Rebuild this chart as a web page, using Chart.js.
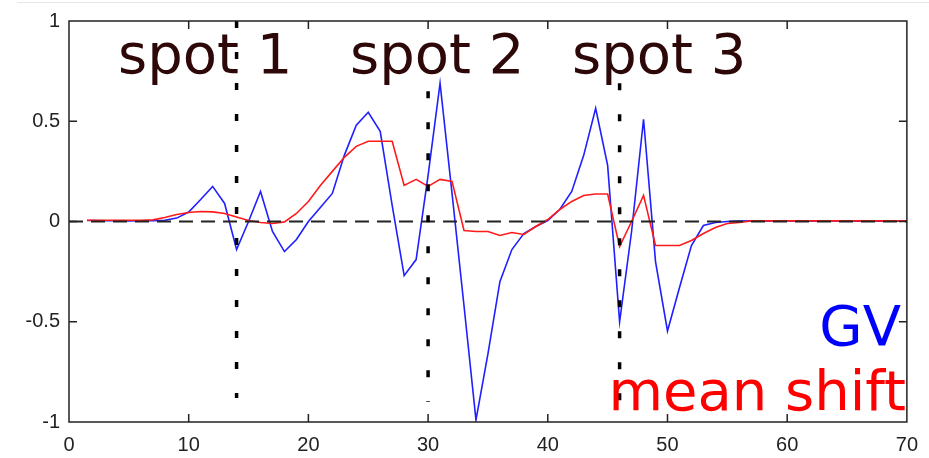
<!DOCTYPE html>
<html>
<head>
<meta charset="utf-8">
<script src="https://cdn.jsdelivr.net/npm/chart.js@4.4.1/dist/chart.umd.min.js"></script>
<style>
    html, body { margin: 0; padding: 0; background: #fff; }
    #wrap { position: relative; width: 929px; height: 458px; }
    #topline { position: absolute; left: 17px; right: 0; top: 2px; height: 1px; background: #e6e6e6; }
    canvas { position: absolute; left: 0; top: 0; }
</style>
</head>
<body>
<div id="wrap">
    <div id="topline"></div>
    <canvas id="grafico" width="929" height="458"></canvas>
</div>
<script>
// x positions (frame index)
const xs = [1.5, 2, 3, 4, 5, 6, 7, 8, 9, 10,
    11, 12, 13, 14, 15, 16, 17, 18, 19, 20,
    21, 22, 23, 24, 25, 26, 27, 28, 29, 30,
    31, 32, 33, 34, 35, 36, 37, 38, 39, 40,
    41, 42, 43, 44, 45, 46, 47, 48, 49, 50,
    51, 52, 53, 54, 55, 56, 57, 58, 59, 60,
    61, 62, 63, 64, 65, 66, 67, 68, 69, 70];

const gv = [0.005, 0.005, 0.004, 0.004, 0.003, 0.004, 0.004, 0.006, 0.017, 0.047,
    0.11, 0.175, 0.09, -0.14, 0.0, 0.15, -0.05, -0.15, -0.09, 0.0,
    0.07, 0.14, 0.33, 0.48, 0.545, 0.45, 0.08, -0.27, -0.19, 0.23,
    0.69, 0.14, -0.42, -0.99, -0.66, -0.3, -0.14, -0.06, -0.025, 0.005,
    0.06, 0.15, 0.33, 0.565, 0.28, -0.5, -0.05, 0.51, -0.2, -0.546,
    -0.33, -0.12, -0.02, -0.005, 0.0, 0.002, 0.003, 0.002, 0.003, 0.004,
    0.003, 0.002, 0.003, 0.004, 0.003, 0.002, 0.003, 0.002, 0.002, 0.002];

const meanShift = [0.006, 0.006, 0.006, 0.006, 0.006, 0.006, 0.008, 0.02, 0.035, 0.045,
    0.05, 0.048, 0.04, 0.022, 0.005, -0.005, -0.01, -0.002, 0.04, 0.10,
    0.18, 0.25, 0.32, 0.375, 0.40, 0.40, 0.40, 0.18, 0.21, 0.175,
    0.21, 0.20, -0.045, -0.05, -0.05, -0.07, -0.055, -0.065, -0.025, 0.01,
    0.06, 0.10, 0.13, 0.137, 0.137, -0.125, 0.0, 0.13, -0.12, -0.12,
    -0.12, -0.095, -0.06, -0.03, -0.01, -0.005, 0.003, 0.003, 0.003, 0.003,
    0.003, 0.003, 0.003, 0.003, 0.003, 0.003, 0.003, 0.003, 0.003, 0.003];

// marked spots (vertical dotted lines)
const spotX = [14, 30, 46];
const spotTop = [1, 0.65, 0.69];
const spotBottom = [-0.88, -0.9, -0.9];
const spotLabels = ['spot 1', 'spot 2', 'spot 3'];

const xTicks = [0, 10, 20, 30, 40, 50, 60, 70];
const yTicks = [-1, -0.5, 0, 0.5, 1];
const yTickLabels = ['-1', '-0.5', '0', '0.5', '1'];

document.addEventListener("DOMContentLoaded", function () {
    const ctx = document.getElementById('grafico').getContext('2d');

    const puntos = (vals) => xs.map((x, i) => ({ x: x, y: vals[i] }));

    const spotSets = spotX.map((sx, i) => ({
        label: spotLabels[i],
        data: [{ x: sx, y: spotTop[i] }, { x: sx, y: spotBottom[i] }],
        borderColor: '#000',
        borderWidth: 3.5,
        borderDash: [7, 24],
        borderCapStyle: 'butt',
        pointRadius: 0
    }));

    // frame box with inward ticks on all four sides
    const marco = {
        id: 'marco',
        afterDatasetsDraw(chart) {
            const c = chart.ctx;
            const a = chart.chartArea;
            const sx = chart.scales.x;
            const sy = chart.scales.y;
            c.save();
            c.strokeStyle = '#222';
            c.lineWidth = 1.5;
            c.strokeRect(a.left, a.top, a.right - a.left, a.bottom - a.top);
            c.beginPath();
            xTicks.forEach(function (t) {
                if (t === xTicks[0] || t === xTicks[xTicks.length - 1]) return;
                const px = sx.getPixelForValue(t);
                c.moveTo(px, a.bottom); c.lineTo(px, a.bottom - 8);
                c.moveTo(px, a.top); c.lineTo(px, a.top + 8);
            });
            yTicks.forEach(function (t) {
                if (t === yTicks[0] || t === yTicks[yTicks.length - 1]) return;
                const py = sy.getPixelForValue(t);
                c.moveTo(a.left, py); c.lineTo(a.left + 8, py);
                c.moveTo(a.right, py); c.lineTo(a.right - 8, py);
            });
            c.stroke();
            c.restore();
        }
    };

    // big text labels
    const rotulos = {
        id: 'rotulos',
        afterDraw(chart) {
            const c = chart.ctx;
            c.save();
            c.font = '56px "DejaVu Sans"';
            c.textBaseline = 'alphabetic';
            c.textAlign = 'left';
            c.fillStyle = '#2e0808';
            const lx = [118, 350, 572];
            spotLabels.forEach(function (s, i) {
                c.fillText(s, lx[i], 73);
            });
            c.textAlign = 'right';
            c.fillStyle = '#0000ff';
            c.fillText('GV', 901, 345);
            c.fillStyle = '#ff0000';
            c.fillText('mean shift', 906, 410);
            c.restore();
        }
    };

    new Chart(ctx, {
        type: 'line',
        data: {
            datasets: spotSets.concat([
                {
                    label: 'zero',
                    data: [{ x: 0, y: 0 }, { x: 70, y: 0 }],
                    borderColor: '#222',
                    borderWidth: 2,
                    borderDash: [14, 8],
                    pointRadius: 0
                },
                {
                    label: 'mean shift',
                    data: puntos(meanShift),
                    borderColor: '#ff1a1a',
                    borderWidth: 1.6,
                    pointRadius: 0
                },
                {
                    label: 'GV',
                    data: puntos(gv),
                    borderColor: '#1f1fff',
                    borderWidth: 1.6,
                    pointRadius: 0
                }
            ])
        },
        options: {
            responsive: false,
            animation: false,
            layout: { padding: { left: 0, right: 19, top: 17, bottom: 0 } },
            plugins: {
                legend: { display: false },
                tooltip: { enabled: false }
            },
            scales: {
                x: {
                    type: 'linear',
                    min: 0,
                    max: 70,
                    afterFit: function (s) { s.height = 36; },
                    afterBuildTicks: function (s) { s.ticks = xTicks.map(v => ({ value: v })); },
                    grid: { display: false, drawTicks: false },
                    border: { display: false },
                    ticks: {
                        padding: 11,
                        color: '#222',
                        font: { family: 'Liberation Sans', size: 20 }
                    }
                },
                y: {
                    type: 'linear',
                    min: -1,
                    max: 1,
                    afterFit: function (s) { s.width = 69; },
                    afterBuildTicks: function (s) { s.ticks = yTicks.map(v => ({ value: v })); },
                    grid: { display: false, drawTicks: false },
                    border: { display: false },
                    ticks: {
                        padding: 9,
                        color: '#222',
                        font: { family: 'Liberation Sans', size: 20 },
                        callback: function (v) { return yTickLabels[yTicks.indexOf(v)]; }
                    }
                }
            }
        },
        plugins: [marco, rotulos]
    });
});
</script>
</body>
</html>
